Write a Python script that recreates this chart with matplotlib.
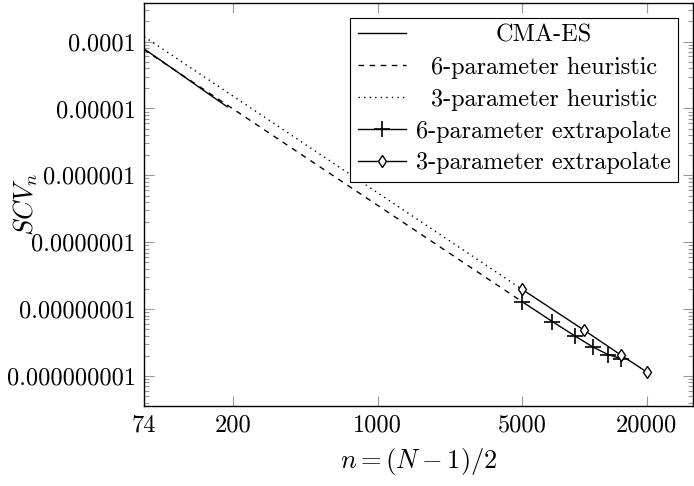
import matplotlib
matplotlib.use("Agg")
import matplotlib.pyplot as plt
from matplotlib.transforms import Affine2D

plt.rcParams['font.family'] = 'cmr10'
plt.rcParams['mathtext.fontset'] = 'cm'
plt.rcParams['axes.formatter.use_mathtext'] = True

# values
cma_n = [74, 100, 150, 187]
cma_scv = [7.8e-5, 4.1e-5, 1.7e-5, 1.06e-5]

heur6_n = [74, 5000]
heur6_scv = [7.6e-5, 1.29e-8]

heur3_n = [74, 5000]
heur3_scv = [1.19e-4, 1.97e-8]

extra6_n = [5000, 7000, 9000, 11000, 13000, 15000]
extra6_scv = [1.29e-8, 6.5e-9, 3.96e-9, 2.71e-9, 2.09e-9, 1.82e-9]

extra3_n = [5000, 10000, 15000, 20000]
extra3_scv = [1.97e-8, 4.8e-9, 2.06e-9, 1.15e-9]

xticks = [74, 200, 1000, 5000, 20000]
xtick_labels = ['74', '200', '1000', '5000', '20000']
yticks = [1e-4, 1e-5, 1e-6, 1e-7, 1e-8, 1e-9]
ytick_labels = ['0.0001', '0.00001', '0.000001', '0.0000001',
                '0.00000001', '0.000000001']

fs = 17.5
lfs = 19
legfs = 17.5
fig = plt.figure(figsize=(6.94, 4.86), dpi=100)
ax = fig.add_axes([144/694, 1-406/486, 549/694, 403/486])

lw = 1.0
ax.plot(cma_n, cma_scv, color='black', lw=lw, label='CMA-ES')
ax.plot(heur6_n, heur6_scv, color='black', lw=lw, ls=(0, (4, 4)),
        label='6-parameter heuristic')
ax.plot(heur3_n, heur3_scv, color='black', lw=lw, ls=(0, (1, 3)),
        label='3-parameter heuristic')
ax.plot(extra6_n, extra6_scv, color='black', lw=lw, marker='+', ms=11,
        mew=1.2, label='6-parameter extrapolate')
ax.plot(extra3_n, extra3_scv, color='black', lw=lw, marker='d', ms=6,
        mfc='white', mew=1.0, label='3-parameter extrapolate')

ax.set_xscale('log')
ax.set_yscale('log')
ax.set_xlim(74, 33500)
ax.set_ylim(3.56e-10, 3.78e-4)

ax.set_xticks(xticks)
ax.set_xticklabels(xtick_labels, fontsize=fs)
ax.xaxis.set_minor_locator(matplotlib.ticker.NullLocator())
ax.set_yticks(yticks)
ax.set_yticklabels(ytick_labels, fontsize=fs)

ax.tick_params(axis='both', which='major', direction='in', color='#999999',
               length=7, width=0.8, top=True, right=True, pad=6)
ax.tick_params(axis='y', which='minor', direction='in', color='#999999',
               length=3.8, width=0.8, left=True, right=True)
for s in ax.spines.values():
    s.set_linewidth(1.0)

ax.set_xlabel(r'$n=(N-1)/2$', fontsize=lfs)
ax.xaxis.set_label_coords(0.5, -0.1)
ax.set_ylabel(r'$SCV_n$', fontsize=lfs)
ax.yaxis.set_label_coords(-0.19, 0.5)

leg = ax.legend(loc='upper right', fontsize=legfs, fancybox=False,
                edgecolor='black', framealpha=1, labelspacing=0.4,
                handlelength=2.0, handletextpad=0.4, borderpad=0.3,
                borderaxespad=0.6)
leg.get_frame().set_linewidth(0.8)

# center legend entries in their column, like pgfplots does
fig.canvas.draw()
r = fig.canvas.get_renderer()
widths = [t.get_window_extent(r).width for t in leg.get_texts()]
wmax = max(widths)
for t, w in zip(leg.get_texts(), widths):
    t.set_transform(t.get_transform() + Affine2D().translate((wmax - w) / 2, 0))

fig.savefig('out.png', dpi=100)
